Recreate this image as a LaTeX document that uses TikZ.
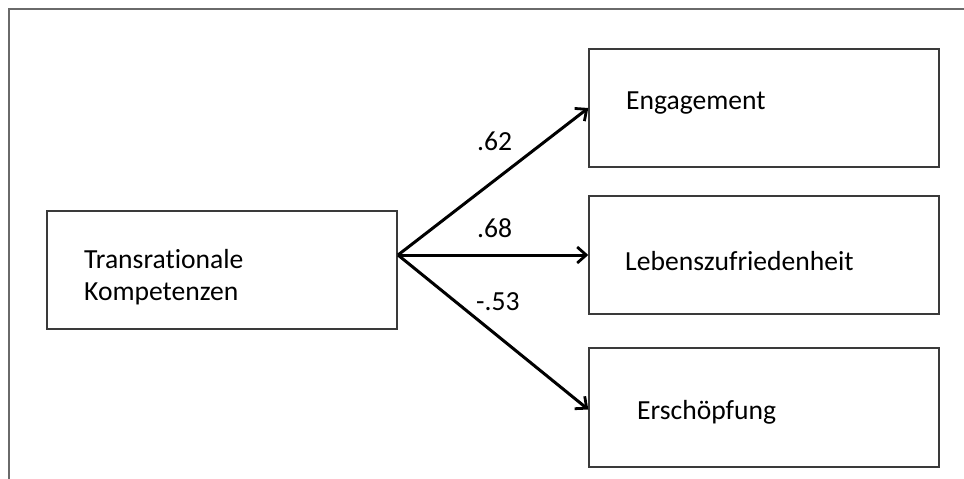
\documentclass[tikz,border=0pt]{standalone}
\usepackage{fontspec}
\setmainfont[Ligatures=NoCommon]{Carlito}
\usetikzlibrary{arrows.meta}
\definecolor{boxgray}{HTML}{3A3A3A}
\definecolor{framegray}{HTML}{6A6A6A}
\begin{document}
\begin{tikzpicture}[x=1pt,y=-1pt,
  box/.style={draw=boxgray,line width=1.4pt,rectangle,inner sep=0pt},
  lbl/.style={anchor=base west,inner sep=0pt,font=\fontsize{27.6}{32}\selectfont},
  conn/.style={line width=3pt,-{Straight Barb[length=9pt,width=16pt,line width=2.8pt]}},
  frame/.style={draw=framegray,line width=2pt}]
\useasboundingbox (0,0) rectangle (964,479);
\draw[frame] (9,479) -- (9,9) -- (964,9);
% boxes
\node[box,minimum width=350pt,minimum height=118pt] (src) at (222,270) {};
\node[box,minimum width=350pt,minimum height=118pt] (eng) at (764,108) {};
\node[box,minimum width=350pt,minimum height=118pt] (leb) at (764,255) {};
\node[box,minimum width=350pt,minimum height=119pt] (ers) at (764,407.5) {};
% texts
\node[lbl] (t1) at (84,268) {Transrationale};
\node[lbl] (t2) at (84,300) {Kompetenzen};
\node[lbl] (t3) at (626,109) {Engagement};
\node[lbl] (t4) at (625,270) {Lebenszufriedenheit};
\node[lbl] (t5) at (637,419) {Erschöpfung};
% connectors
\coordinate (o) at (398,255);
\draw[conn] (o) -- (eng.west);
\draw[conn] (o) -- (leb.west);
\draw[conn] (o) -- ([yshift=-2pt]ers.west);
% coefficients
\node[lbl] (c1) at (477,150) {.62};
\node[lbl] (c2) at (477,237) {.68};
\node[lbl] (c3) at (476,310) {-.53};
\end{tikzpicture}
\end{document}
